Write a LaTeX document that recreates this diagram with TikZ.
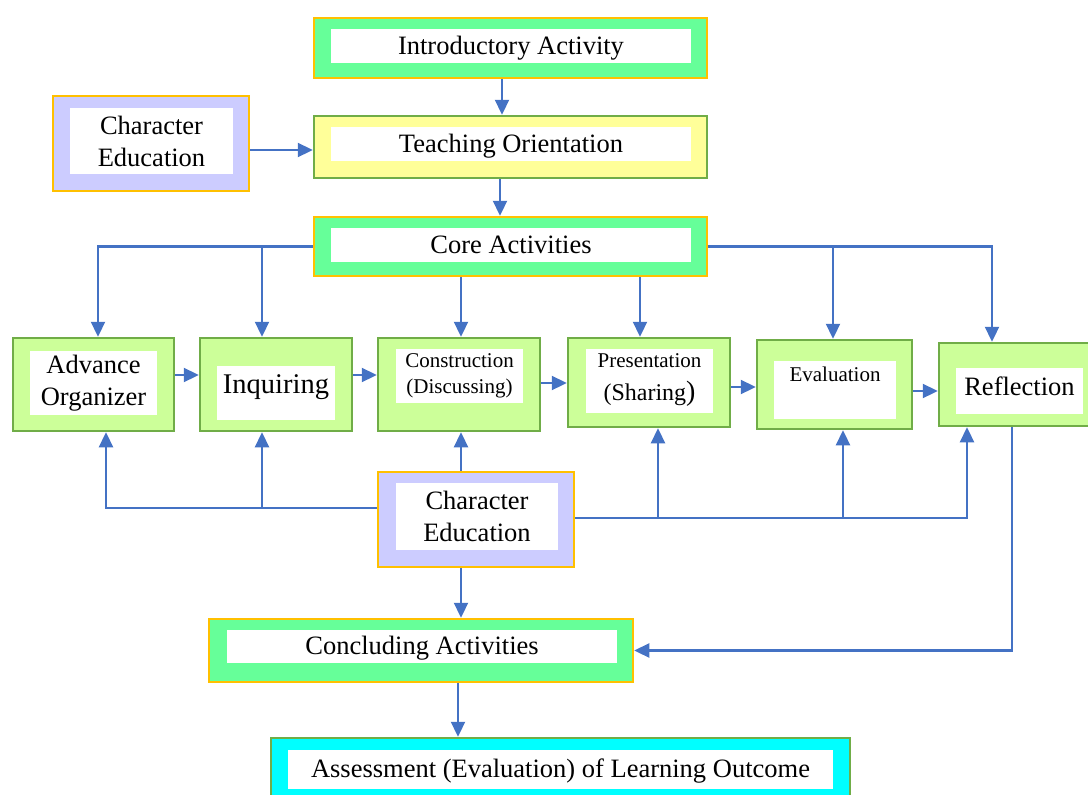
\documentclass[tikz,border=0pt]{standalone}
\usepackage{fontspec}
\setmainfont{Liberation Serif}
\usetikzlibrary{arrows.meta,calc}
\definecolor{orB}{HTML}{FFC000}
\definecolor{grB}{HTML}{70AD47}
\definecolor{mint}{HTML}{66FF99}
\definecolor{lyel}{HTML}{FFFF99}
\definecolor{lav}{HTML}{CCCCFF}
\definecolor{lgreen}{HTML}{CCFF99}
\definecolor{cyanF}{HTML}{00FFFF}
\definecolor{arrB}{HTML}{4472C4}
\tikzset{
  outerbox/.style={draw, line width=2.5pt, inner sep=0pt},
  innerbox/.style={fill=white, inner sep=0pt, align=center},
  conn/.style={draw=arrB, line width=2.3pt},
  arr/.style={conn, -{Triangle[length=15pt,width=14pt]}},
  bigtxt/.style={font=\fontsize{26.5}{32}\selectfont},
  oneline/.style={text height=22pt, text depth=5.7pt},
  smalltxt/.style={font=\fontsize{21}{26}\selectfont},
}
\begin{document}
\begin{tikzpicture}[x=1pt,y=-1pt]
\useasboundingbox (0,0) rectangle (1088,795);

% outer boxes
\node[outerbox, draw=orB, fill=mint, minimum width=393pt, minimum height=60pt] (intro) at (510.5,48) {};
\node[outerbox, draw=grB, fill=lyel, minimum width=393pt, minimum height=62pt] (teach) at (510.5,147) {};
\node[outerbox, draw=orB, fill=lav, minimum width=196pt, minimum height=95pt] (ce1) at (151,143.5) {};
\node[outerbox, draw=orB, fill=mint, minimum width=393pt, minimum height=59pt] (core) at (510.5,246.5) {};
\node[outerbox, draw=grB, fill=lgreen, minimum width=161pt, minimum height=93pt] (ao) at (93.5,384.5) {};
\node[outerbox, draw=grB, fill=lgreen, minimum width=152pt, minimum height=93pt] (inq) at (276,384.5) {};
\node[outerbox, draw=grB, fill=lgreen, minimum width=162pt, minimum height=93pt] (cons) at (459,384.5) {};
\node[outerbox, draw=grB, fill=lgreen, minimum width=162pt, minimum height=89pt] (pres) at (649,382.5) {};
\node[outerbox, draw=grB, fill=lgreen, minimum width=155pt, minimum height=89pt] (eval) at (834.5,384.5) {};
\node[outerbox, draw=grB, fill=lgreen, minimum width=161pt, minimum height=83pt] (refl) at (1019.5,384.5) {};
\node[outerbox, draw=orB, fill=lav, minimum width=196pt, minimum height=95pt] (ce2) at (476,519.5) {};
\node[outerbox, draw=orB, fill=mint, minimum width=424pt, minimum height=63pt] (conc) at (421,650.5) {};
\node[outerbox, draw=grB, fill=cyanF, minimum width=579pt, minimum height=72pt] (assess) at (560.5,774) {};

% inner white panels with text
\node[innerbox, bigtxt, oneline, minimum width=360pt, minimum height=34pt] (introI) at (511,46) {Introductory Activity};
\node[innerbox, bigtxt, oneline, minimum width=360pt, minimum height=34pt] (teachI) at (511,144) {Teaching Orientation};
\node[innerbox, bigtxt, minimum width=163pt, minimum height=66pt] (ce1I) at (151.5,141) {Character\\Education};
\node[innerbox, bigtxt, oneline, minimum width=360pt, minimum height=34pt] (coreI) at (511,245) {Core Activities};
\node[innerbox, bigtxt, minimum width=127pt, minimum height=64pt] (aoI) at (93.5,383) {Advance\\Organizer};
\node[innerbox, minimum width=118pt, minimum height=54pt] (inqI) at (276,393) {};
\node[font=\fontsize{28.5}{34}\selectfont] (inqT) at (276,387) {Inquiring};
\node[innerbox, smalltxt, minimum width=127pt, minimum height=54pt] (consI) at (459.5,376) {Construction\\(Discussing)};
\node[innerbox, minimum width=127pt, minimum height=64pt] (presI) at (649.5,381) {};
\node[smalltxt, align=center] (presT) at (649.5,380) {Presentation\\[7pt]{\fontsize{24}{28}\selectfont(Sharing\fontsize{28}{28}\selectfont)}};
\node[innerbox, minimum width=122pt, minimum height=58pt] (evalI) at (835,390) {};
\node[smalltxt] (evalT) at (835,374) {Evaluation};
\node[innerbox, minimum width=127pt, minimum height=46pt] (reflI) at (1019.5,391) {};
\node[bigtxt] (reflT) at (1019.5,386) {Reflection};
\node[innerbox, bigtxt, minimum width=162pt, minimum height=67pt] (ce2I) at (477,516.5) {Character\\Education};
\node[innerbox, bigtxt, oneline, minimum width=390pt, minimum height=33pt] (concI) at (422,646.5) {Concluding Activities};
\node[innerbox, bigtxt, oneline, minimum width=545pt, minimum height=39pt] (assessI) at (560.5,769.5) {Assessment (Evaluation) of Learning Outcome};

% connection points
\coordinate (introO) at ([xshift=-8.5pt]intro.south);
\coordinate (teachO) at ([xshift=-10.5pt]teach.south);
\coordinate (aoT) at ([xshift=4.5pt]ao.north);
\coordinate (inqT2) at ([xshift=-14pt]inq.north);
\coordinate (consT) at ([xshift=2pt]cons.north);
\coordinate (presTop) at ([xshift=-9pt]pres.north);
\coordinate (evalTop) at ([xshift=-1.5pt]eval.north);
\coordinate (reflTop) at ([xshift=-27.5pt]refl.north);
\coordinate (aoB) at ([xshift=12.5pt]ao.south);
\coordinate (inqB) at ([xshift=-14pt]inq.south);
\coordinate (consB) at ([xshift=2pt]cons.south);
\coordinate (presB) at ([xshift=9pt]pres.south);
\coordinate (evalB) at ([xshift=8.5pt]eval.south);
\coordinate (reflB) at ([xshift=-52.5pt]refl.south);
\coordinate (reflO) at ([xshift=-7.5pt]refl.south);
\coordinate (ceL) at ([yshift=11.5pt]ce2.west);
\coordinate (ceR) at ([yshift=1.5pt]ce2.east);
\coordinate (ceO) at ([xshift=-15pt]ce2.south);
\coordinate (concO) at ([xshift=37pt]conc.south);
\coordinate (h1) at ([yshift=9.5pt]ao.east);
\coordinate (h2) at ([yshift=9.5pt]inq.east);
\coordinate (h3) at ([yshift=1.5pt]cons.east);
\coordinate (h4) at ([yshift=-4.5pt]pres.east);
\coordinate (h5) at ([yshift=-6.5pt]eval.east);

% top chain
\draw[arr] (introO) -- (introO |- teach.north);
\draw[arr] (teachO) -- (teachO |- core.north);
\draw[arr] ([yshift=-3pt]ce1.east |- teach.west) -- ([yshift=-3pt]teach.west);

% core fan-out
\draw[arr] (core.west) -| (aoT);
\draw[arr] (core.west -| inqT2) -- (inqT2);
\draw[arr] (core.south -| consT) -- (consT);
\draw[arr] (core.south -| presTop) -- (presTop);
\draw[arr] (core.east) -| (reflTop);
\draw[arr] (core.east -| evalTop) -- (evalTop);

% row
\draw[arr] (h1) -- (h1 -| inq.west);
\draw[arr] (h2) -- (h2 -| cons.west);
\draw[arr] (h3) -- (h3 -| pres.west);
\draw[arr] (h4) -- (h4 -| eval.west);
\draw[arr] (h5) -- (h5 -| refl.west);

% character education fan-in
\draw[arr] (ce2.north -| consB) -- (consB);
\draw[arr] (ceL) -| (aoB);
\draw[arr] (ceL -| inqB) -- (inqB);
\draw[arr] (ceR) -| (reflB);
\draw[arr] (ceR -| presB) -- (presB);
\draw[arr] (ceR -| evalB) -- (evalB);

% bottom
\draw[arr] (ceO) -- (ceO |- conc.north);
\draw[arr] (reflO) |- (conc.east);
\draw[arr] (concO) -- (concO |- assess.north);
\end{tikzpicture}
\end{document}
